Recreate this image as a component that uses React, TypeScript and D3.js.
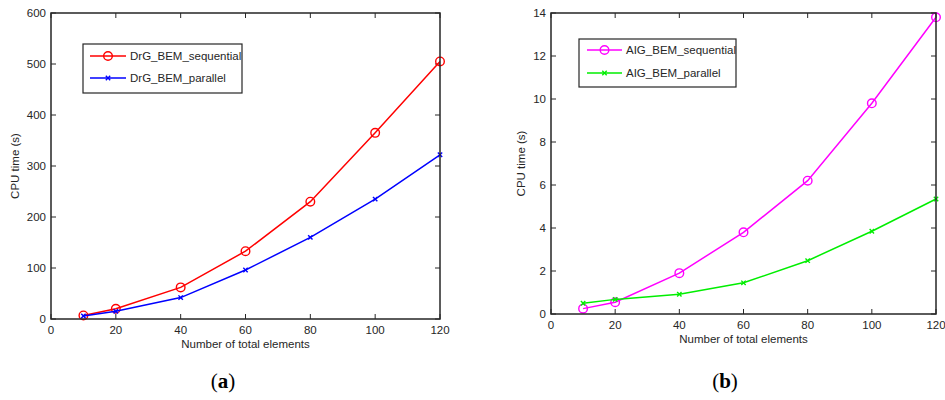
import React from "react";
import * as d3 from "d3";

const xValues = [10, 20, 40, 60, 80, 100, 120];
const drgSequential = [7, 20, 62, 133, 230, 365, 505];
const drgParallel = [6, 15, 42, 96, 160, 235, 322];
const aigSequential = [0.25, 0.55, 1.9, 3.8, 6.2, 9.8, 13.8];
const aigParallel = [0.5, 0.68, 0.92, 1.45, 2.48, 3.85, 5.35];
const xTicks = [0, 20, 40, 60, 80, 100, 120];
const leftYTicks = [0, 100, 200, 300, 400, 500, 600];
const rightYTicks = [0, 2, 4, 6, 8, 10, 12, 14];

type Series = { name: string; values: number[]; color: string; marker: "o" | "x" };

function Marker({ x, y, kind, color }: { x: number; y: number; kind: "o" | "x"; color: string }) {
  if (kind === "o") return <circle cx={x} cy={y} r={4.3} fill="none" stroke={color} strokeWidth={1.4} />;
  const s = 2.2;
  return (
    <g stroke={color} strokeWidth={1.4}>
      <line x1={x - s} y1={y - s} x2={x + s} y2={y + s} />
      <line x1={x - s} y1={y + s} x2={x + s} y2={y - s} />
    </g>
  );
}

function Panel(props: {
  left: number; right: number; top: number; bottom: number;
  yMax: number; yTicks: number[]; series: Series[];
  legend: { x0: number; y0: number; x1: number; y1: number; lineX0: number; lineX1: number; textX: number; rows: number[] };
  labelX: number; xLabelY: number; caption: string; captionX: number;
}) {
  const { left, right, top, bottom, yMax, yTicks, series, legend } = props;
  const x = d3.scaleLinear().domain([0, 120]).range([left, right]);
  const y = d3.scaleLinear().domain([0, yMax]).range([bottom, top]);
  const line = d3.line<[number, number]>().x(d => x(d[0])).y(d => y(d[1]));
  const tl = 5;
  const font = "'Liberation Sans', Arial, sans-serif";
  return (
    <g>
      <rect x={left} y={top} width={right - left} height={bottom - top} fill="white" />
      {xTicks.map(t => (
        <g key={"xt" + t}>
          <line x1={x(t)} x2={x(t)} y1={bottom} y2={bottom - tl} stroke="#262626" />
          <line x1={x(t)} x2={x(t)} y1={top} y2={top + tl} stroke="#262626" />
          <text x={x(t)} y={bottom + 15} textAnchor="middle" fontSize={11.5} fontFamily={font} fill="#262626">{t}</text>
        </g>
      ))}
      {yTicks.map(t => (
        <g key={"yt" + t}>
          <line x1={left} x2={left + tl} y1={y(t)} y2={y(t)} stroke="#262626" />
          <line x1={right} x2={right - tl} y1={y(t)} y2={y(t)} stroke="#262626" />
          <text x={left - 5} y={y(t) + 4} textAnchor="end" fontSize={11.5} fontFamily={font} fill="#262626">{t}</text>
        </g>
      ))}
      {series.map(s => {
        const pts = xValues.map((v, i) => [v, s.values[i]] as [number, number]);
        return (
          <g key={s.name}>
            <path d={line(pts) || ""} fill="none" stroke={s.color} strokeWidth={1.5} />
            {pts.map((p, i) => <Marker key={i} x={x(p[0])} y={y(p[1])} kind={s.marker} color={s.color} />)}
          </g>
        );
      })}
      <rect x={left} y={top} width={right - left} height={bottom - top} fill="none" stroke="#262626" strokeWidth={1.5} />
      <rect x={legend.x0} y={legend.y0} width={legend.x1 - legend.x0} height={legend.y1 - legend.y0} fill="white" stroke="#262626" strokeWidth={1.2} />
      {series.map((s, i) => (
        <g key={"lg" + s.name}>
          <line x1={legend.lineX0} x2={legend.lineX1} y1={legend.rows[i]} y2={legend.rows[i]} stroke={s.color} strokeWidth={1.5} />
          <Marker x={(legend.lineX0 + legend.lineX1) / 2} y={legend.rows[i]} kind={s.marker} color={s.color} />
          <text x={legend.textX} y={legend.rows[i] + 4} fontSize={11.5} fontFamily={font} fill="#262626">{s.name}</text>
        </g>
      ))}
      <text x={(left + right) / 2 - 0} y={props.xLabelY} textAnchor="middle" fontSize={11.5} fontFamily={font} fill="#262626">Number of total elements</text>
      <text transform={`translate(${props.labelX},${(top + bottom) / 2}) rotate(-90)`} textAnchor="middle" fontSize={11.5} fontFamily={font} fill="#262626">CPU time (s)</text>
      <text x={props.captionX} y={388} textAnchor="middle" fontSize={21} fontFamily="'Liberation Serif', 'DejaVu Serif', serif" fill="#000">
        (<tspan fontWeight="bold">{props.caption}</tspan>)
      </text>
    </g>
  );
}

export default function App() {
  return (
    <svg width={945} height={400} style={{ position: "absolute", left: 0, top: 0, background: "white" }}>
      <Panel left={51} right={440} top={13} bottom={319} yMax={600} yTicks={leftYTicks}
        series={[
          { name: "DrG_BEM_sequential", values: drgSequential, color: "#ff0000", marker: "o" },
          { name: "DrG_BEM_parallel", values: drgParallel, color: "#0000ff", marker: "x" },
        ]}
        legend={{ x0: 83, y0: 44, x1: 242, y1: 93, lineX0: 90, lineX1: 126, textX: 130, rows: [56, 78] }}
        labelX={19} xLabelY={348} caption="a" captionX={223} />
      <Panel left={551} right={936} top={13} bottom={314} yMax={14} yTicks={rightYTicks}
        series={[
          { name: "AIG_BEM_sequential", values: aigSequential, color: "#ff00ff", marker: "o" },
          { name: "AIG_BEM_parallel", values: aigParallel, color: "#00ee00", marker: "x" },
        ]}
        legend={{ x0: 579, y0: 39, x1: 736, y1: 87, lineX0: 587, lineX1: 622, textX: 626, rows: [50, 73] }}
        labelX={525} xLabelY={343} caption="b" captionX={725} />
    </svg>
  );
}
